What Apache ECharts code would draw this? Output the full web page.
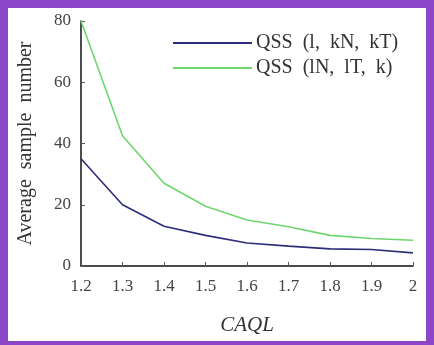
<!DOCTYPE html>
<html>
<head>
<meta charset="utf-8">
<script src="https://cdn.jsdelivr.net/npm/echarts@6/dist/echarts.min.js"></script>
<style>
  html, body { margin: 0; padding: 0; background: #8c46c8; }
  #frame { position: absolute; left: 0; top: 0; width: 434px; height: 345px; background: #8c46c8; }
  #chart { position: absolute; left: 8px; top: 8px; width: 418px; height: 333px; background: #ffffff; }
</style>
</head>
<body>
<div id="frame"></div>
<div id="chart"></div>
<script>
// CAQL values on the horizontal axis
const caql = ['1.2', '1.3', '1.4', '1.5', '1.6', '1.7', '1.8', '1.9', '2'];
// Average sample number for each plan
const qssLkNkT = [35, 20, 13, 10, 7.5, 6.5, 5.6, 5.4, 4.3];
const qssLNlTk = [80, 42.5, 27, 19.5, 15, 12.8, 10, 9, 8.4];
const seriesNames = ['QSS  (l,  kN,  kT)', 'QSS  (lN,  lT,  k)'];
const yTicks = { min: 0, max: 80, interval: 20 };

const serif = '"Liberation Serif", "DejaVu Serif", serif';
const chart = echarts.init(document.getElementById('chart'), null, { renderer: 'canvas' });

chart.setOption({
  backgroundColor: '#ffffff',
  animation: false,
  grid: { left: 71, top: 13, right: 13, bottom: 74.5, containLabel: false },
  legend: {
    left: 160,
    top: 20,
    orient: 'vertical',
    itemWidth: 79,
    itemHeight: 2,
    itemGap: 5,
    icon: 'rect',
    textStyle: { fontFamily: serif, fontSize: 20, color: '#333', padding: [0, 0, 0, -1] },
    data: seriesNames
  },
  xAxis: {
    type: 'category',
    data: caql,
    boundaryGap: false,
    name: 'CAQL',
    nameLocation: 'middle',
    nameGap: 49,
    nameTextStyle: { fontFamily: serif, fontSize: 21, fontStyle: 'italic', color: '#333' },
    axisLine: { lineStyle: { color: '#111', width: 1.5 } },
    axisTick: { inside: true, length: 4, lineStyle: { color: '#555' } },
    axisLabel: { fontFamily: serif, fontSize: 17, color: '#444', margin: 12 },
    splitLine: { show: false }
  },
  yAxis: {
    type: 'value',
    min: yTicks.min,
    max: yTicks.max,
    interval: yTicks.interval,
    name: 'Average  sample  number',
    nameLocation: 'middle',
    nameGap: 45,
    nameTextStyle: { fontFamily: serif, fontSize: 20, color: '#333' },
    axisLine: { show: true, lineStyle: { color: '#111', width: 1.5 } },
    axisTick: { show: true, inside: true, length: 4, lineStyle: { color: '#555' } },
    axisLabel: { fontFamily: serif, fontSize: 17, color: '#444', margin: 10 },
    splitLine: { show: false }
  },
  series: [
    {
      name: seriesNames[0],
      type: 'line',
      data: qssLkNkT,
      symbol: 'none',
      lineStyle: { color: '#2e2d78', width: 1.6 },
      itemStyle: { color: '#2e2d78' }
    },
    {
      name: seriesNames[1],
      type: 'line',
      data: qssLNlTk,
      symbol: 'none',
      lineStyle: { color: '#6fd66f', width: 1.6 },
      itemStyle: { color: '#6fd66f' }
    }
  ]
});
</script>
</body>
</html>
